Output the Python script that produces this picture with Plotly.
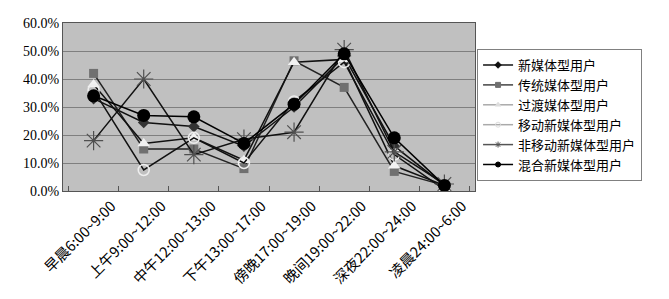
import plotly.graph_objects as go

categories = ["早晨6:00~9:00", "上午9:00~12:00", "中午12:00~13:00", "下午13:00~17:00",
              "傍晚17:00~19:00", "晚间19:00~22:00", "深夜22:00~24:00", "凌晨24:00~6:00"]

xinmeiti = [0.33, 0.245, 0.23, 0.16, 0.30, 0.48, 0.16, 0.02]
chuantong = [0.42, 0.15, 0.15, 0.08, 0.465, 0.37, 0.07, 0.02]
guodu = [0.38, 0.17, 0.19, 0.11, 0.46, 0.47, 0.09, 0.02]
yidong = [0.36, 0.075, 0.19, 0.10, 0.32, 0.46, 0.13, 0.005]
feiyidong = [0.18, 0.40, 0.13, 0.185, 0.21, 0.505, 0.14, 0.025]
hunhe = [0.34, 0.27, 0.265, 0.17, 0.31, 0.49, 0.19, 0.02]

series_names = ["新媒体型用户", "传统媒体型用户", "过渡媒体型用户", "移动新媒体型用户", "非移动新媒体型用户", "混合新媒体型用户"]
series_values = [xinmeiti, chuantong, guodu, yidong, feiyidong, hunhe]

styles = [
    dict(line=dict(color="#111111", width=1.5), marker=dict(symbol="diamond", size=9, color="#333333")),
    dict(line=dict(color="#222222", width=1.5), marker=dict(symbol="square", size=9, color="#707070")),
    dict(line=dict(color="#111111", width=1.5), marker=dict(symbol="triangle-up", size=11, color="#f2f2f2")),
    dict(line=dict(color="#111111", width=1.5), marker=dict(symbol="circle-open", size=11, color="#eeeeee", line=dict(width=1.5, color="#eeeeee"))),
    dict(line=dict(color="#111111", width=1.5), marker=dict(symbol="asterisk-open", size=16, color="#505050", line=dict(width=1.2, color="#505050"))),
    dict(line=dict(color="#000000", width=1.5), marker=dict(symbol="circle", size=13, color="#000000")),
]
legend_line_colors = ["#111111", "#444444", "#aaaaaa", "#aaaaaa", "#555555", "#000000"]
legend_marker_colors = ["#111111", "#707070", "#dddddd", "#dddddd", "#555555", "#000000"]

fig = go.Figure()
for i, (name, vals, st) in enumerate(zip(series_names, series_values, styles)):
    fig.add_trace(go.Scatter(x=categories, y=vals, name=name, mode="lines+markers",
                             line=st["line"], marker=st["marker"], showlegend=False,
                             legendgroup=name))
for i, (name, st) in enumerate(zip(series_names, styles)):
    sym = st["marker"]["symbol"]
    fig.add_trace(go.Scatter(x=[None], y=[None], name=name, mode="lines+markers",
                             line=dict(color=legend_line_colors[i], width=1.5),
                             marker=dict(symbol=sym, size=5, color=legend_marker_colors[i],
                                         line=dict(width=1, color=legend_marker_colors[i])),
                             legendgroup=name, showlegend=True))

fig.update_layout(
    width=669, height=299,
    margin=dict(l=63, r=194, t=23, b=108),
    paper_bgcolor="white", plot_bgcolor="#c0c0c0",
    showlegend=True,
    legend=dict(x=1.005, y=0.845, xanchor="left", yanchor="top",
                bgcolor="white", bordercolor="#808080", borderwidth=1,
                font=dict(family="Noto Sans CJK SC", size=13, color="black"),
                tracegroupgap=0, itemwidth=30),
    font=dict(family="Liberation Serif", color="black"),
)
fig.update_xaxes(type="category", showgrid=False, showline=True, mirror=True,
                 linecolor="#555555", linewidth=1, ticks="inside", tickson="boundaries",
                 ticklen=5, tickcolor="#555555", tickangle=-45, automargin=False,
                 tickfont=dict(family="Noto Sans CJK SC", size=14.5, color="black"),
                 ticklabelshift=18)
fig.update_yaxes(range=[0, 0.6], dtick=0.1, tickformat=".1%", showgrid=True,
                 gridcolor="#7f7f7f", gridwidth=1, showline=True, mirror=True,
                 linecolor="#555555", linewidth=1, zeroline=False, automargin=False,
                 tickfont=dict(family="Liberation Serif", size=14, color="black"))

fig.write_html("out.html")
